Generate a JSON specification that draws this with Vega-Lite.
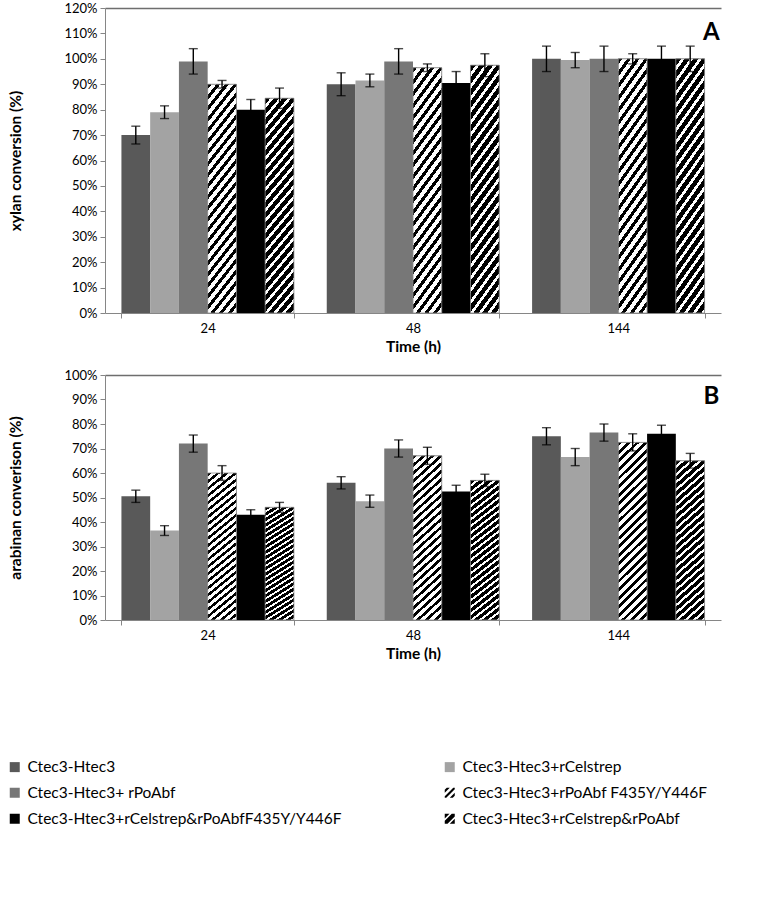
{
  "$schema": "https://vega.github.io/schema/vega-lite/v6.json",
  "padding": {"left": 7, "top": 2, "right": 5, "bottom": 5},
  "config": {
    "font": "Lato",
    "view": {"stroke": null},
    "axis": {"domainColor": "#868686", "tickColor": "#868686", "labelColor": "#000", "labelFont": "Lato", "labelFontSize": 13, "titleFont": "Lato", "titleFontSize": 15.5, "titleFontWeight": "bold", "titleColor": "#000", "tickSize": 5, "grid": false, "labelOverlap": false},
    "concat": {"spacing": 14}
  },
  "data": {"values": [
    {"panel": "A", "time": "24", "series": "Ctec3-Htec3", "value": 0.70, "err": 0.035},
    {"panel": "A", "time": "24", "series": "Ctec3-Htec3+rCelstrep", "value": 0.79, "err": 0.025},
    {"panel": "A", "time": "24", "series": "Ctec3-Htec3+ rPoAbf", "value": 0.99, "err": 0.05},
    {"panel": "A", "time": "24", "series": "Ctec3-Htec3+rPoAbf F435Y/Y446F", "value": 0.90, "err": 0.015},
    {"panel": "A", "time": "24", "series": "Ctec3-Htec3+rCelstrep&rPoAbfF435Y/Y446F", "value": 0.80, "err": 0.04},
    {"panel": "A", "time": "24", "series": "Ctec3-Htec3+rCelstrep&rPoAbf", "value": 0.845, "err": 0.04},
    {"panel": "A", "time": "48", "series": "Ctec3-Htec3", "value": 0.90, "err": 0.045},
    {"panel": "A", "time": "48", "series": "Ctec3-Htec3+rCelstrep", "value": 0.915, "err": 0.025},
    {"panel": "A", "time": "48", "series": "Ctec3-Htec3+ rPoAbf", "value": 0.99, "err": 0.05},
    {"panel": "A", "time": "48", "series": "Ctec3-Htec3+rPoAbf F435Y/Y446F", "value": 0.965, "err": 0.015},
    {"panel": "A", "time": "48", "series": "Ctec3-Htec3+rCelstrep&rPoAbfF435Y/Y446F", "value": 0.905, "err": 0.045},
    {"panel": "A", "time": "48", "series": "Ctec3-Htec3+rCelstrep&rPoAbf", "value": 0.975, "err": 0.045},
    {"panel": "A", "time": "144", "series": "Ctec3-Htec3", "value": 1.0, "err": 0.05},
    {"panel": "A", "time": "144", "series": "Ctec3-Htec3+rCelstrep", "value": 0.995, "err": 0.03},
    {"panel": "A", "time": "144", "series": "Ctec3-Htec3+ rPoAbf", "value": 1.0, "err": 0.05},
    {"panel": "A", "time": "144", "series": "Ctec3-Htec3+rPoAbf F435Y/Y446F", "value": 1.0, "err": 0.02},
    {"panel": "A", "time": "144", "series": "Ctec3-Htec3+rCelstrep&rPoAbfF435Y/Y446F", "value": 1.0, "err": 0.05},
    {"panel": "A", "time": "144", "series": "Ctec3-Htec3+rCelstrep&rPoAbf", "value": 1.0, "err": 0.05},
    {"panel": "B", "time": "24", "series": "Ctec3-Htec3", "value": 0.505, "err": 0.025},
    {"panel": "B", "time": "24", "series": "Ctec3-Htec3+rCelstrep", "value": 0.365, "err": 0.02},
    {"panel": "B", "time": "24", "series": "Ctec3-Htec3+ rPoAbf", "value": 0.72, "err": 0.035},
    {"panel": "B", "time": "24", "series": "Ctec3-Htec3+rPoAbf F435Y/Y446F", "value": 0.60, "err": 0.03},
    {"panel": "B", "time": "24", "series": "Ctec3-Htec3+rCelstrep&rPoAbfF435Y/Y446F", "value": 0.43, "err": 0.02},
    {"panel": "B", "time": "24", "series": "Ctec3-Htec3+rCelstrep&rPoAbf", "value": 0.46, "err": 0.02},
    {"panel": "B", "time": "48", "series": "Ctec3-Htec3", "value": 0.56, "err": 0.025},
    {"panel": "B", "time": "48", "series": "Ctec3-Htec3+rCelstrep", "value": 0.485, "err": 0.025},
    {"panel": "B", "time": "48", "series": "Ctec3-Htec3+ rPoAbf", "value": 0.70, "err": 0.035},
    {"panel": "B", "time": "48", "series": "Ctec3-Htec3+rPoAbf F435Y/Y446F", "value": 0.67, "err": 0.035},
    {"panel": "B", "time": "48", "series": "Ctec3-Htec3+rCelstrep&rPoAbfF435Y/Y446F", "value": 0.525, "err": 0.025},
    {"panel": "B", "time": "48", "series": "Ctec3-Htec3+rCelstrep&rPoAbf", "value": 0.57, "err": 0.025},
    {"panel": "B", "time": "144", "series": "Ctec3-Htec3", "value": 0.75, "err": 0.035},
    {"panel": "B", "time": "144", "series": "Ctec3-Htec3+rCelstrep", "value": 0.665, "err": 0.035},
    {"panel": "B", "time": "144", "series": "Ctec3-Htec3+ rPoAbf", "value": 0.765, "err": 0.035},
    {"panel": "B", "time": "144", "series": "Ctec3-Htec3+rPoAbf F435Y/Y446F", "value": 0.725, "err": 0.035},
    {"panel": "B", "time": "144", "series": "Ctec3-Htec3+rCelstrep&rPoAbfF435Y/Y446F", "value": 0.76, "err": 0.035},
    {"panel": "B", "time": "144", "series": "Ctec3-Htec3+rCelstrep&rPoAbf", "value": 0.65, "err": 0.03}
  ]},
  "vconcat": [
    {
      "width": 616, "height": 305,
      "layer": [
        {
          "transform": [{"filter": "datum.panel === 'A'"}],
          "mark": {"type": "bar"},
          "encoding": {
            "x": {"field": "time", "type": "nominal", "scale": {"domain": ["24", "48", "144"], "paddingInner": 0.16, "paddingOuter": 0.08}, "axis": {"title": "Time (h)", "labelAngle": 0, "tickBand": "extent", "labelPadding": 4, "titlePadding": 4}},
            "xOffset": {"field": "series", "type": "nominal", "scale": {"domain": ["Ctec3-Htec3", "Ctec3-Htec3+rCelstrep", "Ctec3-Htec3+ rPoAbf", "Ctec3-Htec3+rPoAbf F435Y/Y446F", "Ctec3-Htec3+rCelstrep&rPoAbfF435Y/Y446F", "Ctec3-Htec3+rCelstrep&rPoAbf"]}},
            "y": {"field": "value", "type": "quantitative", "title": "xylan conversion (%)", "scale": {"domain": [0, 1.2]}, "axis": {"title": "xylan conversion (%)", "format": ".0%", "values": [0, 0.1, 0.2, 0.3, 0.4, 0.5, 0.6, 0.7, 0.8, 0.9, 1.0, 1.1, 1.2], "labelOverlap": false, "labelPadding": 3, "titlePadding": 40, "grid": true, "gridColor": "#6e6e6e", "gridWidth": 1.5, "gridOpacity": {"condition": {"test": "datum.value >= 1.19", "value": 1}, "value": 0}}},
            "color": {"field": "series", "type": "nominal", "scale": {"domain": ["Ctec3-Htec3", "Ctec3-Htec3+rCelstrep", "Ctec3-Htec3+ rPoAbf", "Ctec3-Htec3+rPoAbf F435Y/Y446F", "Ctec3-Htec3+rCelstrep&rPoAbfF435Y/Y446F", "Ctec3-Htec3+rCelstrep&rPoAbf"], "range": ["#595959", "#a3a3a3", "#777777", "#000000", "#000000", "#000000"]},
              "legend": {"title": null, "orient": "none", "legendX": -98, "legendY": 751, "direction": "horizontal", "columns": 2, "columnPadding": 100, "rowPadding": 9, "labelFont": "Lato", "labelFontSize": 15.5, "labelColor": "#000", "labelLimit": 0, "symbolType": "square", "symbolSize": 100, "symbolStrokeWidth": 0, "labelOffset": 5,
                "encode": {"symbols": {"update": {"shape": {"signal": "datum.value === 'Ctec3-Htec3+rPoAbf F435Y/Y446F' ? 'M-1,-0.6L-0.6,-1L0,-1L-1,0Z M-1,0.7L0.7,-1L1,-1L1,-0.7L-0.7,1L-1,1Z M0,1L1,0L1,0.6L0.6,1Z' : datum.value === 'Ctec3-Htec3+rCelstrep&rPoAbf' ? 'M-1,-1L-0.05,-1L-1,-0.05Z M-1,0.4L0.4,-1L1,-1L1,-0.45L-0.45,1L-1,1Z M0,1L1,0L1,1Z' : 'square'"}}}}}}
          }
        },
        {
          "transform": [{"filter": "datum.panel === 'A' && (datum.series === 'Ctec3-Htec3+rPoAbf F435Y/Y446F' || datum.series === 'Ctec3-Htec3+rCelstrep&rPoAbf')"}],
          "mark": {"type": "bar", "stroke": "#8a8a8a", "strokeWidth": 0.8},
          "encoding": {
            "x": {"field": "time", "type": "nominal"},
            "xOffset": {"field": "series", "type": "nominal"},
            "y": {"field": "value", "type": "quantitative", "title": "xylan conversion (%)", "axis": {"title": "xylan conversion (%)", "format": ".0%", "values": [0, 0.1, 0.2, 0.3, 0.4, 0.5, 0.6, 0.7, 0.8, 0.9, 1.0, 1.1, 1.2], "labelOverlap": false, "labelPadding": 3, "titlePadding": 40, "grid": true, "gridColor": "#6e6e6e", "gridWidth": 1.5, "gridOpacity": {"condition": {"test": "datum.value >= 1.19", "value": 1}, "value": 0}}},
            "fill": {"condition": {"test": "datum.series === 'Ctec3-Htec3+rPoAbf F435Y/Y446F'", "value": {"gradient": "linear", "x1": 0, "y1": 0, "x2": 0.1806, "y2": 1.1308, "stops": [
              {"offset":0,"color":"#000"},{"offset":0.0188,"color":"#000"},{"offset":0.0188,"color":"#fff"},{"offset":0.0417,"color":"#fff"},
              {"offset":0.0417,"color":"#000"},{"offset":0.0604,"color":"#000"},{"offset":0.0604,"color":"#fff"},{"offset":0.0833,"color":"#fff"},
              {"offset":0.0833,"color":"#000"},{"offset":0.1021,"color":"#000"},{"offset":0.1021,"color":"#fff"},{"offset":0.125,"color":"#fff"},
              {"offset":0.125,"color":"#000"},{"offset":0.1438,"color":"#000"},{"offset":0.1438,"color":"#fff"},{"offset":0.1667,"color":"#fff"},
              {"offset":0.1667,"color":"#000"},{"offset":0.1854,"color":"#000"},{"offset":0.1854,"color":"#fff"},{"offset":0.2083,"color":"#fff"},
              {"offset":0.2083,"color":"#000"},{"offset":0.2271,"color":"#000"},{"offset":0.2271,"color":"#fff"},{"offset":0.25,"color":"#fff"},
              {"offset":0.25,"color":"#000"},{"offset":0.2688,"color":"#000"},{"offset":0.2688,"color":"#fff"},{"offset":0.2917,"color":"#fff"},
              {"offset":0.2917,"color":"#000"},{"offset":0.3104,"color":"#000"},{"offset":0.3104,"color":"#fff"},{"offset":0.3333,"color":"#fff"},
              {"offset":0.3333,"color":"#000"},{"offset":0.3521,"color":"#000"},{"offset":0.3521,"color":"#fff"},{"offset":0.375,"color":"#fff"},
              {"offset":0.375,"color":"#000"},{"offset":0.3938,"color":"#000"},{"offset":0.3938,"color":"#fff"},{"offset":0.4167,"color":"#fff"},
              {"offset":0.4167,"color":"#000"},{"offset":0.4354,"color":"#000"},{"offset":0.4354,"color":"#fff"},{"offset":0.4583,"color":"#fff"},
              {"offset":0.4583,"color":"#000"},{"offset":0.4771,"color":"#000"},{"offset":0.4771,"color":"#fff"},{"offset":0.5,"color":"#fff"},
              {"offset":0.5,"color":"#000"},{"offset":0.5188,"color":"#000"},{"offset":0.5188,"color":"#fff"},{"offset":0.5417,"color":"#fff"},
              {"offset":0.5417,"color":"#000"},{"offset":0.5604,"color":"#000"},{"offset":0.5604,"color":"#fff"},{"offset":0.5833,"color":"#fff"},
              {"offset":0.5833,"color":"#000"},{"offset":0.6021,"color":"#000"},{"offset":0.6021,"color":"#fff"},{"offset":0.625,"color":"#fff"},
              {"offset":0.625,"color":"#000"},{"offset":0.6438,"color":"#000"},{"offset":0.6438,"color":"#fff"},{"offset":0.6667,"color":"#fff"},
              {"offset":0.6667,"color":"#000"},{"offset":0.6854,"color":"#000"},{"offset":0.6854,"color":"#fff"},{"offset":0.7083,"color":"#fff"},
              {"offset":0.7083,"color":"#000"},{"offset":0.7271,"color":"#000"},{"offset":0.7271,"color":"#fff"},{"offset":0.75,"color":"#fff"},
              {"offset":0.75,"color":"#000"},{"offset":0.7688,"color":"#000"},{"offset":0.7688,"color":"#fff"},{"offset":0.7917,"color":"#fff"},
              {"offset":0.7917,"color":"#000"},{"offset":0.8104,"color":"#000"},{"offset":0.8104,"color":"#fff"},{"offset":0.8333,"color":"#fff"},
              {"offset":0.8333,"color":"#000"},{"offset":0.8521,"color":"#000"},{"offset":0.8521,"color":"#fff"},{"offset":0.875,"color":"#fff"},
              {"offset":0.875,"color":"#000"},{"offset":0.8938,"color":"#000"},{"offset":0.8938,"color":"#fff"},{"offset":0.9167,"color":"#fff"},
              {"offset":0.9167,"color":"#000"},{"offset":0.9354,"color":"#000"},{"offset":0.9354,"color":"#fff"},{"offset":0.9583,"color":"#fff"},
              {"offset":0.9583,"color":"#000"},{"offset":0.9771,"color":"#000"},{"offset":0.9771,"color":"#fff"},{"offset":1,"color":"#fff"}
            ]}}, "value": {"gradient": "linear", "x1": 0, "y1": 0, "x2": 0.1806, "y2": 1.1308, "stops": [
              {"offset":0,"color":"#000"},{"offset":0.0258,"color":"#000"},{"offset":0.0258,"color":"#fff"},{"offset":0.0417,"color":"#fff"},
              {"offset":0.0417,"color":"#000"},{"offset":0.0675,"color":"#000"},{"offset":0.0675,"color":"#fff"},{"offset":0.0833,"color":"#fff"},
              {"offset":0.0833,"color":"#000"},{"offset":0.1091,"color":"#000"},{"offset":0.1091,"color":"#fff"},{"offset":0.125,"color":"#fff"},
              {"offset":0.125,"color":"#000"},{"offset":0.1508,"color":"#000"},{"offset":0.1508,"color":"#fff"},{"offset":0.1667,"color":"#fff"},
              {"offset":0.1667,"color":"#000"},{"offset":0.1925,"color":"#000"},{"offset":0.1925,"color":"#fff"},{"offset":0.2083,"color":"#fff"},
              {"offset":0.2083,"color":"#000"},{"offset":0.2341,"color":"#000"},{"offset":0.2341,"color":"#fff"},{"offset":0.25,"color":"#fff"},
              {"offset":0.25,"color":"#000"},{"offset":0.2758,"color":"#000"},{"offset":0.2758,"color":"#fff"},{"offset":0.2917,"color":"#fff"},
              {"offset":0.2917,"color":"#000"},{"offset":0.3175,"color":"#000"},{"offset":0.3175,"color":"#fff"},{"offset":0.3333,"color":"#fff"},
              {"offset":0.3333,"color":"#000"},{"offset":0.3591,"color":"#000"},{"offset":0.3591,"color":"#fff"},{"offset":0.375,"color":"#fff"},
              {"offset":0.375,"color":"#000"},{"offset":0.4008,"color":"#000"},{"offset":0.4008,"color":"#fff"},{"offset":0.4167,"color":"#fff"},
              {"offset":0.4167,"color":"#000"},{"offset":0.4425,"color":"#000"},{"offset":0.4425,"color":"#fff"},{"offset":0.4583,"color":"#fff"},
              {"offset":0.4583,"color":"#000"},{"offset":0.4841,"color":"#000"},{"offset":0.4841,"color":"#fff"},{"offset":0.5,"color":"#fff"},
              {"offset":0.5,"color":"#000"},{"offset":0.5258,"color":"#000"},{"offset":0.5258,"color":"#fff"},{"offset":0.5417,"color":"#fff"},
              {"offset":0.5417,"color":"#000"},{"offset":0.5675,"color":"#000"},{"offset":0.5675,"color":"#fff"},{"offset":0.5833,"color":"#fff"},
              {"offset":0.5833,"color":"#000"},{"offset":0.6091,"color":"#000"},{"offset":0.6091,"color":"#fff"},{"offset":0.625,"color":"#fff"},
              {"offset":0.625,"color":"#000"},{"offset":0.6508,"color":"#000"},{"offset":0.6508,"color":"#fff"},{"offset":0.6667,"color":"#fff"},
              {"offset":0.6667,"color":"#000"},{"offset":0.6925,"color":"#000"},{"offset":0.6925,"color":"#fff"},{"offset":0.7083,"color":"#fff"},
              {"offset":0.7083,"color":"#000"},{"offset":0.7341,"color":"#000"},{"offset":0.7341,"color":"#fff"},{"offset":0.75,"color":"#fff"},
              {"offset":0.75,"color":"#000"},{"offset":0.7758,"color":"#000"},{"offset":0.7758,"color":"#fff"},{"offset":0.7917,"color":"#fff"},
              {"offset":0.7917,"color":"#000"},{"offset":0.8175,"color":"#000"},{"offset":0.8175,"color":"#fff"},{"offset":0.8333,"color":"#fff"},
              {"offset":0.8333,"color":"#000"},{"offset":0.8591,"color":"#000"},{"offset":0.8591,"color":"#fff"},{"offset":0.875,"color":"#fff"},
              {"offset":0.875,"color":"#000"},{"offset":0.9008,"color":"#000"},{"offset":0.9008,"color":"#fff"},{"offset":0.9167,"color":"#fff"},
              {"offset":0.9167,"color":"#000"},{"offset":0.9425,"color":"#000"},{"offset":0.9425,"color":"#fff"},{"offset":0.9583,"color":"#fff"},
              {"offset":0.9583,"color":"#000"},{"offset":0.9841,"color":"#000"},{"offset":0.9841,"color":"#fff"},{"offset":1,"color":"#fff"}
            ]}}
          }
        },
        {
          "transform": [{"filter": "datum.panel === 'A'"}],
          "mark": {"type": "errorbar", "ticks": {"size": 9, "thickness": 1.4, "color": "#000"}, "rule": {"strokeWidth": 1.4, "color": "#000"}},
          "encoding": {
            "x": {"field": "time", "type": "nominal"},
            "xOffset": {"field": "series", "type": "nominal"},
            "y": {"field": "value", "type": "quantitative", "title": "xylan conversion (%)", "axis": {"title": "xylan conversion (%)", "format": ".0%", "values": [0, 0.1, 0.2, 0.3, 0.4, 0.5, 0.6, 0.7, 0.8, 0.9, 1.0, 1.1, 1.2], "labelOverlap": false, "labelPadding": 3, "titlePadding": 40, "grid": true, "gridColor": "#6e6e6e", "gridWidth": 1.5, "gridOpacity": {"condition": {"test": "datum.value >= 1.19", "value": 1}, "value": 0}}},
            "yError": {"field": "err"}
          }
        },
        {
          "data": {"values": [{"label": "A", "panel": "A"}]},
          "mark": {"type": "text", "fontSize": 24, "fontWeight": "bold", "font": "Lato", "color": "#000", "align": "center", "baseline": "middle", "dx": 93},
          "encoding": {
            "x": {"datum": "144"},
            "y": {"datum": 1.1, "title": "xylan conversion (%)", "axis": {"title": "xylan conversion (%)", "format": ".0%", "values": [0, 0.1, 0.2, 0.3, 0.4, 0.5, 0.6, 0.7, 0.8, 0.9, 1.0, 1.1, 1.2], "labelOverlap": false, "labelPadding": 3, "titlePadding": 40, "grid": true, "gridColor": "#6e6e6e", "gridWidth": 1.5, "gridOpacity": {"condition": {"test": "datum.value >= 1.19", "value": 1}, "value": 0}}},
            "text": {"field": "label"}
          }
        }
      ]
    },
    {
      "width": 616, "height": 245,
      "layer": [
        {
          "transform": [{"filter": "datum.panel === 'B'"}],
          "mark": {"type": "bar"},
          "encoding": {
            "x": {"field": "time", "type": "nominal", "scale": {"domain": ["24", "48", "144"], "paddingInner": 0.16, "paddingOuter": 0.08}, "axis": {"title": "Time (h)", "labelAngle": 0, "tickBand": "extent", "labelPadding": 4, "titlePadding": 4}},
            "xOffset": {"field": "series", "type": "nominal", "scale": {"domain": ["Ctec3-Htec3", "Ctec3-Htec3+rCelstrep", "Ctec3-Htec3+ rPoAbf", "Ctec3-Htec3+rPoAbf F435Y/Y446F", "Ctec3-Htec3+rCelstrep&rPoAbfF435Y/Y446F", "Ctec3-Htec3+rCelstrep&rPoAbf"]}},
            "y": {"field": "value", "type": "quantitative", "title": "arabinan converison (%)", "scale": {"domain": [0, 1.0]}, "axis": {"title": "arabinan converison (%)", "format": ".0%", "values": [0, 0.1, 0.2, 0.3, 0.4, 0.5, 0.6, 0.7, 0.8, 0.9, 1.0], "labelOverlap": false, "labelPadding": 3, "titlePadding": 40, "grid": true, "gridColor": "#6e6e6e", "gridWidth": 1.5, "gridOpacity": {"condition": {"test": "datum.value >= 0.99", "value": 1}, "value": 0}}},
            "color": {"field": "series", "type": "nominal", "scale": {"domain": ["Ctec3-Htec3", "Ctec3-Htec3+rCelstrep", "Ctec3-Htec3+ rPoAbf", "Ctec3-Htec3+rPoAbf F435Y/Y446F", "Ctec3-Htec3+rCelstrep&rPoAbfF435Y/Y446F", "Ctec3-Htec3+rCelstrep&rPoAbf"], "range": ["#595959", "#a3a3a3", "#777777", "#000000", "#000000", "#000000"]},
              "legend": {"title": null, "orient": "none", "legendX": -98, "legendY": 751, "direction": "horizontal", "columns": 2, "columnPadding": 100, "rowPadding": 9, "labelFont": "Lato", "labelFontSize": 15.5, "labelColor": "#000", "labelLimit": 0, "symbolType": "square", "symbolSize": 100, "symbolStrokeWidth": 0, "labelOffset": 5,
                "encode": {"symbols": {"update": {"shape": {"signal": "datum.value === 'Ctec3-Htec3+rPoAbf F435Y/Y446F' ? 'M-1,-0.6L-0.6,-1L0,-1L-1,0Z M-1,0.7L0.7,-1L1,-1L1,-0.7L-0.7,1L-1,1Z M0,1L1,0L1,0.6L0.6,1Z' : datum.value === 'Ctec3-Htec3+rCelstrep&rPoAbf' ? 'M-1,-1L-0.05,-1L-1,-0.05Z M-1,0.4L0.4,-1L1,-1L1,-0.45L-0.45,1L-1,1Z M0,1L1,0L1,1Z' : 'square'"}}}}}}
          }
        },
        {
          "transform": [{"filter": "datum.panel === 'B' && (datum.series === 'Ctec3-Htec3+rPoAbf F435Y/Y446F' || datum.series === 'Ctec3-Htec3+rCelstrep&rPoAbf')"}],
          "mark": {"type": "bar", "stroke": "#8a8a8a", "strokeWidth": 0.8},
          "encoding": {
            "x": {"field": "time", "type": "nominal"},
            "xOffset": {"field": "series", "type": "nominal"},
            "y": {"field": "value", "type": "quantitative", "title": "arabinan converison (%)", "axis": {"title": "arabinan converison (%)", "format": ".0%", "values": [0, 0.1, 0.2, 0.3, 0.4, 0.5, 0.6, 0.7, 0.8, 0.9, 1.0], "labelOverlap": false, "labelPadding": 3, "titlePadding": 40, "grid": true, "gridColor": "#6e6e6e", "gridWidth": 1.5, "gridOpacity": {"condition": {"test": "datum.value >= 0.99", "value": 1}, "value": 0}}},
            "fill": {"condition": {"test": "datum.series === 'Ctec3-Htec3+rPoAbf F435Y/Y446F'", "value": {"gradient": "linear", "x1": 0, "y1": 0, "x2": 0.1806, "y2": 1.1308, "stops": [
              {"offset":0,"color":"#000"},{"offset":0.0188,"color":"#000"},{"offset":0.0188,"color":"#fff"},{"offset":0.0417,"color":"#fff"},
              {"offset":0.0417,"color":"#000"},{"offset":0.0604,"color":"#000"},{"offset":0.0604,"color":"#fff"},{"offset":0.0833,"color":"#fff"},
              {"offset":0.0833,"color":"#000"},{"offset":0.1021,"color":"#000"},{"offset":0.1021,"color":"#fff"},{"offset":0.125,"color":"#fff"},
              {"offset":0.125,"color":"#000"},{"offset":0.1438,"color":"#000"},{"offset":0.1438,"color":"#fff"},{"offset":0.1667,"color":"#fff"},
              {"offset":0.1667,"color":"#000"},{"offset":0.1854,"color":"#000"},{"offset":0.1854,"color":"#fff"},{"offset":0.2083,"color":"#fff"},
              {"offset":0.2083,"color":"#000"},{"offset":0.2271,"color":"#000"},{"offset":0.2271,"color":"#fff"},{"offset":0.25,"color":"#fff"},
              {"offset":0.25,"color":"#000"},{"offset":0.2688,"color":"#000"},{"offset":0.2688,"color":"#fff"},{"offset":0.2917,"color":"#fff"},
              {"offset":0.2917,"color":"#000"},{"offset":0.3104,"color":"#000"},{"offset":0.3104,"color":"#fff"},{"offset":0.3333,"color":"#fff"},
              {"offset":0.3333,"color":"#000"},{"offset":0.3521,"color":"#000"},{"offset":0.3521,"color":"#fff"},{"offset":0.375,"color":"#fff"},
              {"offset":0.375,"color":"#000"},{"offset":0.3938,"color":"#000"},{"offset":0.3938,"color":"#fff"},{"offset":0.4167,"color":"#fff"},
              {"offset":0.4167,"color":"#000"},{"offset":0.4354,"color":"#000"},{"offset":0.4354,"color":"#fff"},{"offset":0.4583,"color":"#fff"},
              {"offset":0.4583,"color":"#000"},{"offset":0.4771,"color":"#000"},{"offset":0.4771,"color":"#fff"},{"offset":0.5,"color":"#fff"},
              {"offset":0.5,"color":"#000"},{"offset":0.5188,"color":"#000"},{"offset":0.5188,"color":"#fff"},{"offset":0.5417,"color":"#fff"},
              {"offset":0.5417,"color":"#000"},{"offset":0.5604,"color":"#000"},{"offset":0.5604,"color":"#fff"},{"offset":0.5833,"color":"#fff"},
              {"offset":0.5833,"color":"#000"},{"offset":0.6021,"color":"#000"},{"offset":0.6021,"color":"#fff"},{"offset":0.625,"color":"#fff"},
              {"offset":0.625,"color":"#000"},{"offset":0.6438,"color":"#000"},{"offset":0.6438,"color":"#fff"},{"offset":0.6667,"color":"#fff"},
              {"offset":0.6667,"color":"#000"},{"offset":0.6854,"color":"#000"},{"offset":0.6854,"color":"#fff"},{"offset":0.7083,"color":"#fff"},
              {"offset":0.7083,"color":"#000"},{"offset":0.7271,"color":"#000"},{"offset":0.7271,"color":"#fff"},{"offset":0.75,"color":"#fff"},
              {"offset":0.75,"color":"#000"},{"offset":0.7688,"color":"#000"},{"offset":0.7688,"color":"#fff"},{"offset":0.7917,"color":"#fff"},
              {"offset":0.7917,"color":"#000"},{"offset":0.8104,"color":"#000"},{"offset":0.8104,"color":"#fff"},{"offset":0.8333,"color":"#fff"},
              {"offset":0.8333,"color":"#000"},{"offset":0.8521,"color":"#000"},{"offset":0.8521,"color":"#fff"},{"offset":0.875,"color":"#fff"},
              {"offset":0.875,"color":"#000"},{"offset":0.8938,"color":"#000"},{"offset":0.8938,"color":"#fff"},{"offset":0.9167,"color":"#fff"},
              {"offset":0.9167,"color":"#000"},{"offset":0.9354,"color":"#000"},{"offset":0.9354,"color":"#fff"},{"offset":0.9583,"color":"#fff"},
              {"offset":0.9583,"color":"#000"},{"offset":0.9771,"color":"#000"},{"offset":0.9771,"color":"#fff"},{"offset":1,"color":"#fff"}
            ]}}, "value": {"gradient": "linear", "x1": 0, "y1": 0, "x2": 0.1806, "y2": 1.1308, "stops": [
              {"offset":0,"color":"#000"},{"offset":0.0258,"color":"#000"},{"offset":0.0258,"color":"#fff"},{"offset":0.0417,"color":"#fff"},
              {"offset":0.0417,"color":"#000"},{"offset":0.0675,"color":"#000"},{"offset":0.0675,"color":"#fff"},{"offset":0.0833,"color":"#fff"},
              {"offset":0.0833,"color":"#000"},{"offset":0.1091,"color":"#000"},{"offset":0.1091,"color":"#fff"},{"offset":0.125,"color":"#fff"},
              {"offset":0.125,"color":"#000"},{"offset":0.1508,"color":"#000"},{"offset":0.1508,"color":"#fff"},{"offset":0.1667,"color":"#fff"},
              {"offset":0.1667,"color":"#000"},{"offset":0.1925,"color":"#000"},{"offset":0.1925,"color":"#fff"},{"offset":0.2083,"color":"#fff"},
              {"offset":0.2083,"color":"#000"},{"offset":0.2341,"color":"#000"},{"offset":0.2341,"color":"#fff"},{"offset":0.25,"color":"#fff"},
              {"offset":0.25,"color":"#000"},{"offset":0.2758,"color":"#000"},{"offset":0.2758,"color":"#fff"},{"offset":0.2917,"color":"#fff"},
              {"offset":0.2917,"color":"#000"},{"offset":0.3175,"color":"#000"},{"offset":0.3175,"color":"#fff"},{"offset":0.3333,"color":"#fff"},
              {"offset":0.3333,"color":"#000"},{"offset":0.3591,"color":"#000"},{"offset":0.3591,"color":"#fff"},{"offset":0.375,"color":"#fff"},
              {"offset":0.375,"color":"#000"},{"offset":0.4008,"color":"#000"},{"offset":0.4008,"color":"#fff"},{"offset":0.4167,"color":"#fff"},
              {"offset":0.4167,"color":"#000"},{"offset":0.4425,"color":"#000"},{"offset":0.4425,"color":"#fff"},{"offset":0.4583,"color":"#fff"},
              {"offset":0.4583,"color":"#000"},{"offset":0.4841,"color":"#000"},{"offset":0.4841,"color":"#fff"},{"offset":0.5,"color":"#fff"},
              {"offset":0.5,"color":"#000"},{"offset":0.5258,"color":"#000"},{"offset":0.5258,"color":"#fff"},{"offset":0.5417,"color":"#fff"},
              {"offset":0.5417,"color":"#000"},{"offset":0.5675,"color":"#000"},{"offset":0.5675,"color":"#fff"},{"offset":0.5833,"color":"#fff"},
              {"offset":0.5833,"color":"#000"},{"offset":0.6091,"color":"#000"},{"offset":0.6091,"color":"#fff"},{"offset":0.625,"color":"#fff"},
              {"offset":0.625,"color":"#000"},{"offset":0.6508,"color":"#000"},{"offset":0.6508,"color":"#fff"},{"offset":0.6667,"color":"#fff"},
              {"offset":0.6667,"color":"#000"},{"offset":0.6925,"color":"#000"},{"offset":0.6925,"color":"#fff"},{"offset":0.7083,"color":"#fff"},
              {"offset":0.7083,"color":"#000"},{"offset":0.7341,"color":"#000"},{"offset":0.7341,"color":"#fff"},{"offset":0.75,"color":"#fff"},
              {"offset":0.75,"color":"#000"},{"offset":0.7758,"color":"#000"},{"offset":0.7758,"color":"#fff"},{"offset":0.7917,"color":"#fff"},
              {"offset":0.7917,"color":"#000"},{"offset":0.8175,"color":"#000"},{"offset":0.8175,"color":"#fff"},{"offset":0.8333,"color":"#fff"},
              {"offset":0.8333,"color":"#000"},{"offset":0.8591,"color":"#000"},{"offset":0.8591,"color":"#fff"},{"offset":0.875,"color":"#fff"},
              {"offset":0.875,"color":"#000"},{"offset":0.9008,"color":"#000"},{"offset":0.9008,"color":"#fff"},{"offset":0.9167,"color":"#fff"},
              {"offset":0.9167,"color":"#000"},{"offset":0.9425,"color":"#000"},{"offset":0.9425,"color":"#fff"},{"offset":0.9583,"color":"#fff"},
              {"offset":0.9583,"color":"#000"},{"offset":0.9841,"color":"#000"},{"offset":0.9841,"color":"#fff"},{"offset":1,"color":"#fff"}
            ]}}
          }
        },
        {
          "transform": [{"filter": "datum.panel === 'B'"}],
          "mark": {"type": "errorbar", "ticks": {"size": 9, "thickness": 1.4, "color": "#000"}, "rule": {"strokeWidth": 1.4, "color": "#000"}},
          "encoding": {
            "x": {"field": "time", "type": "nominal"},
            "xOffset": {"field": "series", "type": "nominal"},
            "y": {"field": "value", "type": "quantitative", "title": "arabinan converison (%)", "axis": {"title": "arabinan converison (%)", "format": ".0%", "values": [0, 0.1, 0.2, 0.3, 0.4, 0.5, 0.6, 0.7, 0.8, 0.9, 1.0], "labelOverlap": false, "labelPadding": 3, "titlePadding": 40, "grid": true, "gridColor": "#6e6e6e", "gridWidth": 1.5, "gridOpacity": {"condition": {"test": "datum.value >= 0.99", "value": 1}, "value": 0}}},
            "yError": {"field": "err"}
          }
        },
        {
          "data": {"values": [{"label": "B", "panel": "B"}]},
          "mark": {"type": "text", "fontSize": 24, "fontWeight": "bold", "font": "Lato", "color": "#000", "align": "center", "baseline": "middle", "dx": 93},
          "encoding": {
            "x": {"datum": "144"},
            "y": {"datum": 0.91, "title": "arabinan converison (%)", "axis": {"title": "arabinan converison (%)", "format": ".0%", "values": [0, 0.1, 0.2, 0.3, 0.4, 0.5, 0.6, 0.7, 0.8, 0.9, 1.0], "labelOverlap": false, "labelPadding": 3, "titlePadding": 40, "grid": true, "gridColor": "#6e6e6e", "gridWidth": 1.5, "gridOpacity": {"condition": {"test": "datum.value >= 0.99", "value": 1}, "value": 0}}},
            "text": {"field": "label"}
          }
        }
      ]
    }
  ]
}
